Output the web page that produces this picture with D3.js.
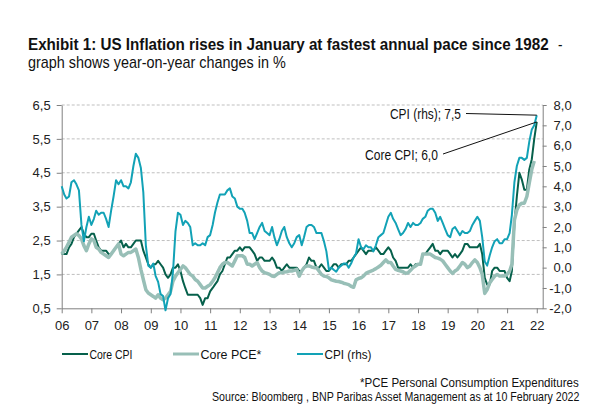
<!DOCTYPE html>
<html>
<head>
<meta charset="utf-8">
<script src="https://cdn.jsdelivr.net/npm/d3@7"></script>
<style>
  body { margin: 0; background: #fff; }
  svg { display: block; font-family: "Liberation Sans", Arial, sans-serif; }
  .grid line { stroke: #bfbfbf; stroke-dasharray: 3,2; }
  .axis path, .axis line { stroke: #808080; }
  .axis text { fill: #222; font-size: 13px; }
</style>
</head>
<body>
<svg id="chart" width="600" height="418"></svg>
<script>
// monthly, Jan 2006 onwards (year-on-year, %)
const firstMonth = new Date(2006, 0, 1);

const coreCpi = [
  2.1, 2.1, 2.1, 2.3, 2.4, 2.6, 2.7, 2.8, 2.9, 2.7, 2.6, 2.6,   // 06
  2.7, 2.7, 2.5, 2.3, 2.2, 2.2, 2.2, 2.1, 2.1, 2.2, 2.3, 2.4,   // 07
  2.5, 2.3, 2.4, 2.3, 2.3, 2.4, 2.5, 2.5, 2.5, 2.2, 2.0, 1.8,   // 08
  1.7, 1.8, 1.8, 1.9, 1.8, 1.7, 1.5, 1.4, 1.5, 1.7, 1.7, 1.8,   // 09
  1.6, 1.3, 1.1, 0.9, 0.9, 0.9, 0.9, 0.9, 0.8, 0.6, 0.8, 0.8,   // 10
  1.0, 1.1, 1.2, 1.3, 1.5, 1.6, 1.8, 2.0, 2.0, 2.1, 2.2, 2.2,   // 11
  2.3, 2.2, 2.3, 2.3, 2.3, 2.2, 2.1, 1.9, 2.0, 2.0, 1.9, 1.9,   // 12
  1.9, 2.0, 1.9, 1.7, 1.7, 1.6, 1.7, 1.8, 1.7, 1.7, 1.7, 1.7,   // 13
  1.6, 1.6, 1.7, 1.8, 2.0, 1.9, 1.9, 1.7, 1.7, 1.8, 1.7, 1.6,   // 14
  1.6, 1.7, 1.8, 1.8, 1.7, 1.8, 1.8, 1.8, 1.9, 1.9, 2.0, 2.1,   // 15
  2.2, 2.3, 2.2, 2.1, 2.2, 2.2, 2.2, 2.3, 2.2, 2.1, 2.1, 2.2,   // 16
  2.3, 2.2, 2.0, 1.9, 1.7, 1.7, 1.7, 1.7, 1.7, 1.8, 1.7, 1.8,   // 17
  1.8, 1.8, 2.1, 2.1, 2.2, 2.3, 2.4, 2.2, 2.2, 2.1, 2.2, 2.2,   // 18
  2.2, 2.1, 2.0, 2.1, 2.0, 2.1, 2.2, 2.4, 2.4, 2.3, 2.3, 2.3,   // 19
  2.3, 2.4, 2.1, 1.4, 1.2, 1.2, 1.6, 1.7, 1.7, 1.6, 1.6, 1.6,   // 20
  1.4, 1.3, 1.6, 3.0, 3.8, 4.5, 4.3, 4.0, 4.0, 4.6, 4.9, 5.5,   // 21
  6.0                                                           // 22
];

const corePce = [
  2.1, 2.2, 2.3, 2.45, 2.6, 2.65, 2.7, 2.65, 2.55, 2.35, 2.2, 2.4,   // 06
  2.55, 2.5, 2.3, 2.25, 2.15, 2.1, 2.05, 2.0, 2.1, 2.2, 2.3, 2.4,    // 07
  2.1, 2.05, 2.1, 2.15, 2.15, 2.2, 2.25, 2.0, 1.65, 1.35, 1.05, 0.95, // 08
  0.9, 0.85, 0.8, 0.9, 0.8, 0.75, 0.8, 0.9, 1.0, 1.3, 1.45, 1.55,    // 09
  1.65, 1.75, 1.7, 1.6, 1.5, 1.45, 1.35, 1.3, 1.2, 1.1, 1.1, 1.15,   // 10
  1.2, 1.3, 1.4, 1.55, 1.7, 1.8, 1.85, 1.85, 1.8, 1.75, 1.9, 2.05,   // 11
  2.05, 2.05, 2.0, 1.8, 1.8, 1.75, 1.8, 1.85, 1.7, 1.6, 1.55, 1.53,  // 12
  1.5, 1.45, 1.44, 1.5, 1.55, 1.55, 1.57, 1.58, 1.6, 1.6, 1.62, 1.65, // 13
  1.45, 1.6, 1.7, 1.75, 1.75, 1.72, 1.7, 1.7, 1.6, 1.5, 1.45, 1.44,  // 14
  1.4, 1.34, 1.32, 1.3, 1.29, 1.27, 1.24, 1.22, 1.2, 1.15, 1.12, 1.34, // 15
  1.38, 1.4, 1.45, 1.53, 1.57, 1.6, 1.63, 1.67, 1.72, 1.77, 1.85, 1.93, // 16
  1.85, 1.85, 1.75, 1.65, 1.62, 1.6, 1.58, 1.53, 1.55, 1.62, 1.7, 1.75, // 17
  1.8, 1.8, 2.1, 2.1, 2.1, 2.1, 2.05, 2.0, 1.98, 1.95, 1.9, 1.8,     // 18
  1.7, 1.6, 1.53, 1.6, 1.65, 1.75, 1.85, 1.8, 1.7, 1.75, 1.85, 1.93,  // 19
  1.85, 1.7, 1.5, 0.94, 1.05, 1.25, 1.35, 1.45, 1.5, 1.45, 1.45, 1.45, // 20
  1.5, 1.6, 1.8, 3.1, 3.4, 3.55, 3.6, 3.6, 3.8, 4.2, 4.6, 4.85       // 21
];

const cpi = [
  4.0, 3.6, 3.4, 3.5, 4.2, 4.3, 4.1, 3.8, 2.1, 1.3, 2.0, 2.5,   // 06
  2.1, 2.4, 2.8, 2.6, 2.7, 2.7, 2.4, 2.0, 2.8, 3.5, 4.3, 4.1,   // 07
  4.3, 4.0, 4.0, 3.9, 4.2, 5.0, 5.6, 5.4, 4.9, 3.7, 1.1, 0.1,   // 08
  0.0, 0.2, -0.4, -0.7, -1.3, -1.4, -2.1, -1.5, -1.3, -0.2, 1.8, 2.7, // 09
  2.6, 2.1, 2.3, 2.2, 2.0, 1.1, 1.2, 1.1, 1.1, 1.2, 1.1, 1.5,   // 10
  1.6, 2.1, 2.7, 3.2, 3.6, 3.6, 3.6, 3.8, 3.9, 3.5, 3.4, 3.0,   // 11
  2.9, 2.9, 2.7, 2.3, 1.7, 1.7, 1.4, 1.7, 2.0, 2.2, 1.8, 1.7,   // 12
  1.6, 2.0, 1.5, 1.1, 1.4, 1.8, 2.0, 1.5, 1.2, 1.0, 1.2, 1.5,   // 13
  1.6, 1.1, 1.5, 2.0, 2.1, 2.1, 2.0, 1.7, 1.7, 1.7, 1.3, 0.8,   // 14
  -0.1, 0.0, -0.1, -0.2, 0.0, 0.1, 0.2, 0.2, 0.0, 0.2, 0.5, 0.7, // 15
  1.4, 1.0, 0.9, 1.1, 1.0, 1.0, 0.8, 1.1, 1.5, 1.6, 1.7, 2.1,   // 16
  2.5, 2.7, 2.4, 2.2, 1.9, 1.6, 1.7, 1.9, 2.2, 2.0, 2.2, 2.1,   // 17
  2.1, 2.2, 2.4, 2.5, 2.8, 2.9, 2.9, 2.7, 2.3, 2.5, 2.2, 1.9,   // 18
  1.6, 1.5, 1.9, 2.0, 1.8, 1.6, 1.8, 1.7, 1.7, 1.8, 2.1, 2.3,   // 19
  2.5, 2.3, 1.5, 0.3, 0.1, 0.6, 1.0, 1.3, 1.4, 1.2, 1.2, 1.4,   // 20
  1.4, 1.7, 2.6, 4.2, 5.0, 5.4, 5.4, 5.3, 5.4, 6.2, 6.8, 7.0,   // 21
  7.5                                                           // 22
];

const leftTicks = [0.5, 1.5, 2.5, 3.5, 4.5, 5.5, 6.5];
const rightTicks = [-2, -1, 0, 1, 2, 3, 4, 5, 6, 7, 8];
const yearTicks = d3.timeYear.range(new Date(2006, 0, 1), new Date(2022, 1, 1));

const seriesNames = ['Core CPI', 'Core PCE*', 'CPI (rhs)'];
const colors = { coreCpi: '#06604b', corePce: '#98bfb7', cpi: '#12a2b6' };

const svg = d3.select('#chart');
const plotLeft = 61.7, plotRight = 542.7, plotTop = 105, plotBottom = 308.3;

const x = d3.scaleTime().domain([new Date(2006, 0, 1), new Date(2022, 2, 15)]).range([plotLeft, plotRight]);
const yL = d3.scaleLinear().domain([0.5, 6.5]).range([plotBottom, plotTop]);
const yR = d3.scaleLinear().domain([-2, 8]).range([plotBottom, plotTop]);

const loc = d3.formatLocale({ decimal: ',', thousands: '.', grouping: [3], currency: ['', ''], minus: '-' });
const fmt = loc.format('.1f');

// narrow text: draw it, then squeeze it horizontally to the width it has in the original
function narrowText(px, py, str, size, width, opts = {}) {
  const g = svg.append('g').attr('transform', `translate(${px},${py})`);
  const t = g.append('text').attr('font-size', size).attr('fill', '#111')
    .attr('font-weight', opts.bold ? 'bold' : null).text(str);
  const w = t.node().getComputedTextLength();
  const k = width / w;
  const dx = opts.anchor === 'end' ? -width : 0;
  t.attr('transform', `translate(${dx},0) scale(${k},1)`);
  return g;
}

// title
narrowText(28, 50, 'Exhibit 1: US Inflation rises in January at fastest annual pace since 1982', 17, 521, { bold: true });
narrowText(558, 50, '-', 16, 4.5);
narrowText(28, 68, 'graph shows year-on-year changes in %', 16, 258);

// gridlines
svg.append('g').attr('class', 'grid')
  .selectAll('line').data(leftTicks.filter(d => d > 0.5)).join('line')
  .attr('x1', plotLeft).attr('x2', plotRight)
  .attr('y1', d => yL(d)).attr('y2', d => yL(d));

// axes
svg.append('g').attr('class', 'axis').attr('transform', `translate(${plotLeft},0)`)
  .call(d3.axisLeft(yL).tickValues(leftTicks).tickFormat(fmt).tickSize(5).tickPadding(6).tickSizeOuter(0));

const ra = svg.append('g').attr('class', 'axis').attr('transform', `translate(${plotRight},0)`)
  .call(d3.axisRight(yR).tickValues(rightTicks).tickFormat(fmt).tickSize(4).tickPadding(6).tickSizeOuter(0));
ra.selectAll('text').attr('text-anchor', 'end').attr('x', 29);

const xa = svg.append('g').attr('class', 'axis').attr('transform', `translate(0,${plotBottom})`)
  .call(d3.axisBottom(x).tickValues(yearTicks).tickFormat(d3.timeFormat('%y')).tickSize(5).tickPadding(7).tickSizeOuter(0));
xa.select('.domain').attr('stroke', '#222');
xa.selectAll('.tick line').attr('stroke', '#222');

// lines
const monthOf = i => d3.timeMonth.offset(firstMonth, i);
const lineL = d3.line().x((d, i) => x(monthOf(i))).y(d => yL(d));
const lineR = d3.line().x((d, i) => x(monthOf(i))).y(d => yR(d));

svg.append('path').datum(coreCpi).attr('d', lineL)
  .attr('fill', 'none').attr('stroke', colors.coreCpi).attr('stroke-width', 2).attr('stroke-linejoin', 'round');
svg.append('path').datum(corePce).attr('d', lineL)
  .attr('fill', 'none').attr('stroke', colors.corePce).attr('stroke-width', 3.5).attr('stroke-linejoin', 'round');
svg.append('path').datum(cpi).attr('d', lineR)
  .attr('fill', 'none').attr('stroke', colors.cpi).attr('stroke-width', 2).attr('stroke-linejoin', 'round');

// annotations
const lastI = cpi.length - 1;
const cpiEnd = [x(monthOf(lastI)), yR(cpi[lastI])];
const coreEnd = [x(monthOf(coreCpi.length - 1)), yL(coreCpi[coreCpi.length - 1])];

svg.append('line').attr('x1', 466).attr('y1', 113.5).attr('x2', cpiEnd[0]).attr('y2', cpiEnd[1])
  .attr('stroke', '#111').attr('stroke-width', 1);
narrowText(461, 118.5, 'CPI (rhs); ' + fmt(cpi[lastI]), 14, 71, { anchor: 'end' });

svg.append('line').attr('x1', 443).attr('y1', 154).attr('x2', coreEnd[0]).attr('y2', coreEnd[1])
  .attr('stroke', '#111').attr('stroke-width', 1);
narrowText(438, 159.5, 'Core CPI; ' + fmt(coreCpi[coreCpi.length - 1]), 14, 73, { anchor: 'end' });

// legend
const legendX = [62, 173, 297];
const legendW = [43, 61, 47];
const legendColors = [colors.coreCpi, colors.corePce, colors.cpi];
seriesNames.forEach((name, i) => {
  svg.append('line').attr('x1', legendX[i]).attr('x2', legendX[i] + 26).attr('y1', 354).attr('y2', 354)
    .attr('stroke', legendColors[i]).attr('stroke-width', i === 1 ? 3 : 2);
  narrowText(legendX[i] + 27.5, 358.5, name, 13, legendW[i]);
});

// footnotes
narrowText(579, 387, '*PCE  Personal Consumption Expenditures', 12, 219, { anchor: 'end' });
narrowText(580, 401, 'Source: Bloomberg , BNP Paribas Asset Management as at 10 February 2022', 12, 368, { anchor: 'end' });
</script>
</body>
</html>
